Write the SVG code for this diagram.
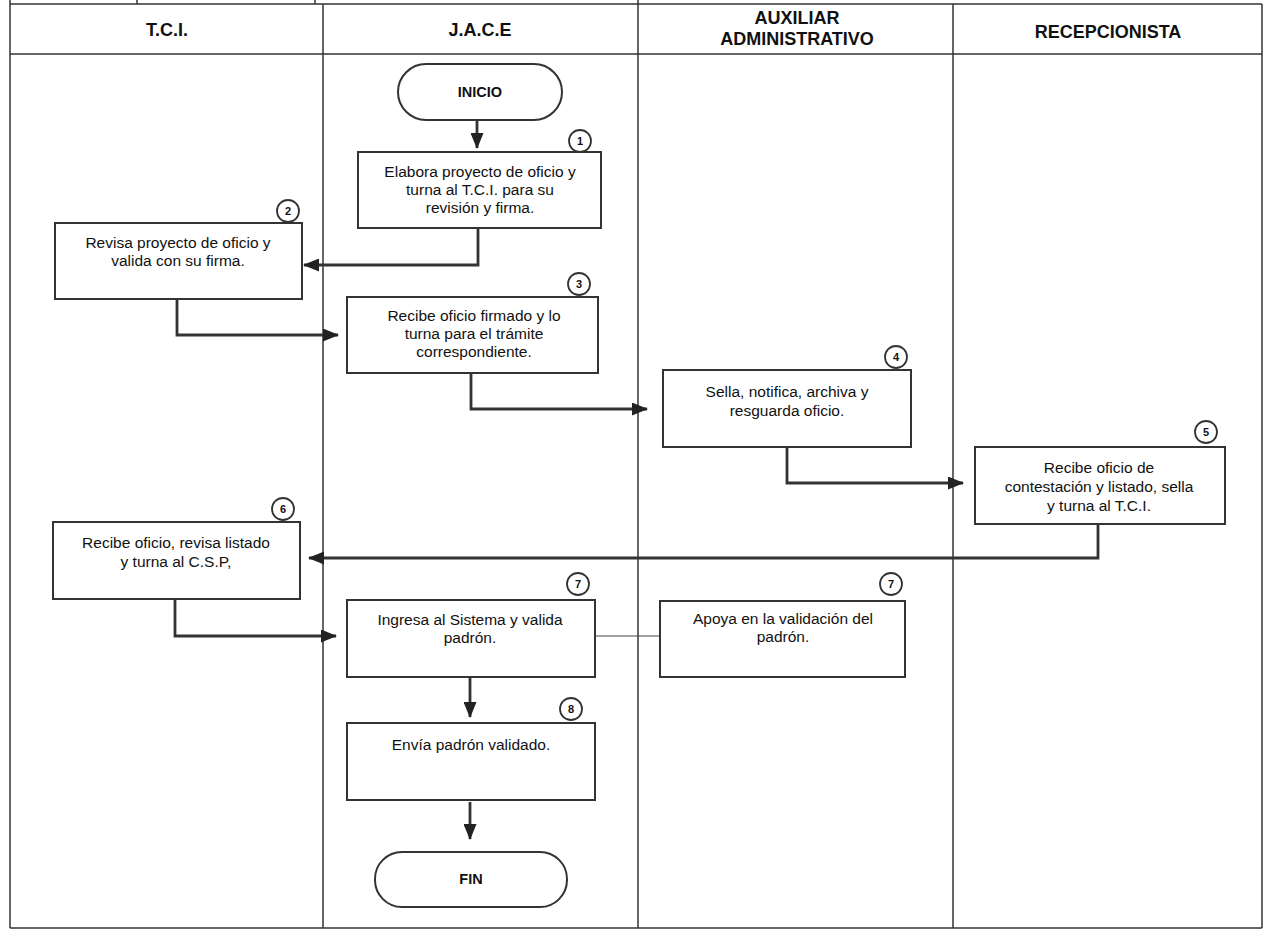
<svg xmlns="http://www.w3.org/2000/svg" width="1265" height="930" viewBox="0 0 1265 930">
<defs>
<style>
.frame{fill:none;stroke:#333;stroke-width:1.5}
.hdr{font-family:"Liberation Sans",Arial,sans-serif;font-weight:bold;font-size:18px;fill:#111;text-anchor:middle}
.box{fill:#fff;stroke:#333;stroke-width:2}
.term{fill:#fff;stroke:#333;stroke-width:2}
.txt{font-family:"Liberation Sans",Arial,sans-serif;font-size:15.5px;fill:#111;text-anchor:middle}
.ttxt{font-family:"Liberation Sans",Arial,sans-serif;font-weight:bold;font-size:14.5px;fill:#111;text-anchor:middle}
.num{fill:#fff;stroke:#333;stroke-width:1.8}
.ntxt{font-family:"Liberation Sans",Arial,sans-serif;font-weight:bold;font-size:11px;fill:#111;text-anchor:middle}
.conn{fill:none;stroke:#333;stroke-width:2.8}
.thin{fill:none;stroke:#444;stroke-width:1.2}
</style>
<marker id="ah" viewBox="0 0 16 13" refX="15" refY="6.5" markerWidth="16" markerHeight="13" markerUnits="userSpaceOnUse" orient="auto">
<path d="M0,0 L16,6.5 L0,13 z" fill="#222"/>
</marker>
</defs>
<rect x="0" y="0" width="1265" height="930" fill="#fff"/>
<g id="frame">
<line class="frame" x1="10" y1="4" x2="1262" y2="4"/>
<line class="frame" x1="137" y1="0" x2="137" y2="4"/>
<line class="frame" x1="315" y1="0" x2="315" y2="4"/>
<line class="frame" x1="10" y1="0" x2="10" y2="928"/>
<line class="frame" x1="1262" y1="4" x2="1262" y2="928"/>
<line class="frame" x1="10" y1="928" x2="1262" y2="928"/>
<line class="frame" x1="10" y1="54" x2="1262" y2="54"/>
<line class="frame" x1="323" y1="4" x2="323" y2="928"/>
<line class="frame" x1="638" y1="0" x2="638" y2="928"/>
<line class="frame" x1="953" y1="4" x2="953" y2="928"/>
<text class="hdr" x="167" y="36">T.C.I.</text>
<text class="hdr" x="480" y="36">J.A.C.E</text>
<text class="hdr" x="797" y="24">AUXILIAR</text>
<text class="hdr" x="797" y="45">ADMINISTRATIVO</text>
<text class="hdr" x="1108" y="38">RECEPCIONISTA</text>
</g>
<g id="connectors">
<line class="conn" x1="477" y1="120" x2="477" y2="148" marker-end="url(#ah)"/>
<polyline class="conn" points="478,228 478,265 304,265" marker-end="url(#ah)"/>
<polyline class="conn" points="177,299 177,335 338,335" marker-end="url(#ah)"/>
<polyline class="conn" points="471,373 471,409 647,409" marker-end="url(#ah)"/>
<polyline class="conn" points="787,447 787,483 963,483" marker-end="url(#ah)"/>
<polyline class="conn" points="1098,524 1098,558 309,558" marker-end="url(#ah)"/>
<polyline class="conn" points="175,599 175,636 336,636" marker-end="url(#ah)"/>
<line class="thin" x1="595" y1="636" x2="660" y2="636"/>
<line class="conn" x1="470" y1="677" x2="470" y2="717" marker-end="url(#ah)"/>
<line class="conn" x1="470" y1="802" x2="470" y2="839" marker-end="url(#ah)"/>
</g>
<g id="inicio">
<rect class="term" x="398" y="64" width="164" height="56" rx="28"/>
<text class="ttxt" x="480" y="97">INICIO</text>
</g>
<g id="n1">
<rect class="box" x="358" y="152" width="243" height="76"/>
<circle class="num" cx="580" cy="141" r="11"/>
<text class="ntxt" x="580" y="145">1</text>
<text class="txt" x="480" y="177">Elabora proyecto de oficio y</text>
<text class="txt" x="480" y="195">turna al T.C.I. para su</text>
<text class="txt" x="480" y="213">revisión y firma.</text>
</g>
<g id="n2">
<rect class="box" x="55" y="223" width="247" height="76"/>
<circle class="num" cx="288" cy="211" r="11"/>
<text class="ntxt" x="288" y="215">2</text>
<text class="txt" x="178" y="248">Revisa proyecto de oficio y</text>
<text class="txt" x="178" y="266">valida con su firma.</text>
</g>
<g id="n3">
<rect class="box" x="347" y="297" width="251" height="76"/>
<circle class="num" cx="579" cy="284" r="11"/>
<text class="ntxt" x="579" y="288">3</text>
<text class="txt" x="474" y="321">Recibe oficio firmado y lo</text>
<text class="txt" x="474" y="339">turna para el trámite</text>
<text class="txt" x="474" y="357">correspondiente.</text>
</g>
<g id="n4">
<rect class="box" x="663" y="370" width="248" height="77"/>
<circle class="num" cx="896" cy="357" r="11"/>
<text class="ntxt" x="896" y="361">4</text>
<text class="txt" x="787" y="397">Sella, notifica, archiva y</text>
<text class="txt" x="787" y="416">resguarda oficio.</text>
</g>
<g id="n5">
<rect class="box" x="975" y="447" width="250" height="77"/>
<circle class="num" cx="1206" cy="432" r="11"/>
<text class="ntxt" x="1206" y="436">5</text>
<text class="txt" x="1099" y="473">Recibe oficio de</text>
<text class="txt" x="1099" y="492">contestación y listado, sella</text>
<text class="txt" x="1099" y="511">y turna al T.C.I.</text>
</g>
<g id="n6">
<rect class="box" x="53" y="522" width="247" height="77"/>
<circle class="num" cx="283" cy="509" r="11"/>
<text class="ntxt" x="283" y="513">6</text>
<text class="txt" x="176" y="548">Recibe oficio, revisa listado</text>
<text class="txt" x="176" y="567">y turna al C.S.P,</text>
</g>
<g id="n7a">
<rect class="box" x="347" y="600" width="248" height="77"/>
<circle class="num" cx="578" cy="584" r="11"/>
<text class="ntxt" x="578" y="588">7</text>
<text class="txt" x="470" y="625">Ingresa al Sistema y valida</text>
<text class="txt" x="470" y="643">padrón.</text>
</g>
<g id="n7b">
<rect class="box" x="660" y="601" width="245" height="76"/>
<circle class="num" cx="891" cy="584" r="11"/>
<text class="ntxt" x="891" y="588">7</text>
<text class="txt" x="783" y="624">Apoya en la validación del</text>
<text class="txt" x="783" y="642">padrón.</text>
</g>
<g id="n8">
<rect class="box" x="347" y="723" width="248" height="77"/>
<circle class="num" cx="571" cy="709" r="11"/>
<text class="ntxt" x="571" y="713">8</text>
<text class="txt" x="471" y="750">Envía padrón validado.</text>
</g>
<g id="fin">
<rect class="term" x="375" y="852" width="192" height="55" rx="27"/>
<text class="ttxt" x="471" y="884">FIN</text>
</g>
</svg>
